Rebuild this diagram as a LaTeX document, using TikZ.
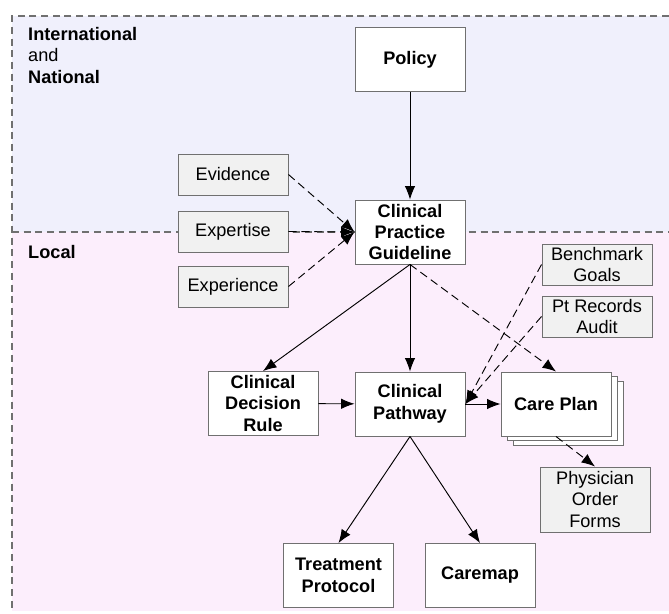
\documentclass[tikz,border=0pt]{standalone}
\usepackage{fontspec}
\setmainfont{Liberation Sans}
\usepackage{tikz}
\usetikzlibrary{arrows.meta}
\definecolor{topfill}{RGB}{240,240,252}
\definecolor{botfill}{RGB}{252,238,252}
\definecolor{edgegray}{RGB}{112,112,112}
\definecolor{inputfill}{RGB}{241,241,241}
\newcommand{\boxfont}{\fontsize{15.5}{18.3}\selectfont}

\begin{document}
\begin{tikzpicture}[x=0.03cm, y=-0.03cm,
  region/.style={color=edgegray, line width=0.9pt, dash pattern=on 6pt off 4pt},
  mainbox/.style={draw=edgegray, fill=white, line width=0.8pt, minimum width=3.3cm, minimum height=1.92cm, inner sep=1pt, align=center, font=\boxfont\bfseries},
  inputbox/.style={draw=edgegray, fill=inputfill, line width=0.8pt, minimum width=3.3cm, minimum height=1.23cm, inner sep=0.5pt, align=center, font=\boxfont},
  solidarrow/.style={-{Latex[length=11.5pt, width=9pt]}, line width=0.8pt},
  dasharrow/.style={-{Latex[length=11.5pt, width=9pt]}, line width=0.8pt, dash pattern=on 7pt off 4pt}]
\useasboundingbox (0,0) rectangle (669,613);
\coordinate (tl) at (12,16);
\coordinate (tr) at (669,16);
\coordinate (ml) at (12,232);
\coordinate (mr) at (669,232);
\coordinate (bl) at (12,611);
\coordinate (br) at (669,611);
 \fill[topfill] (tl) rectangle (mr);
 \fill[botfill] (ml) rectangle (br);
 \draw[region] (tr) -- (tl) -- (bl);
 \draw[region] (ml) -- (mr);
 \node[anchor=north west, align=left, inner sep=0pt, font=\boxfont] (intl) at (28,27) {\textbf{International}\\and\\\textbf{National}};
 \node[anchor=west, inner sep=0pt, font=\boxfont\bfseries] (local) at (28,252) {Local};
 \node[mainbox] (policy) at (410,59.5) {Policy};
 \node[mainbox] (cpg) at (410,232) {Clinical\\Practice\\Guideline};
 \node[inputbox] (evid) at (233,174.5) {Evidence};
 \node[inputbox] (expt) at (233,231.5) {Expertise};
 \node[inputbox] (expr) at (233,286.5) {Experience};
 \node[inputbox] (bench) at (597,264.5) {Benchmark\\Goals};
 \node[inputbox] (audit) at (597,316.5) {Pt Records\\Audit};
 \node[mainbox] (cdr) at (263,403.5) {Clinical\\Decision\\Rule};
 \node[mainbox] (path) at (410,404) {Clinical\\Pathway};
 \node[mainbox] (care2) at (568,413) {};
 \node[mainbox] (care1) at (562,408) {};
 \node[mainbox] (care) at (556,404) {Care Plan};
 \node[inputbox, minimum height=1.95cm] (phys) at (595,499.5) {Physician\\Order\\Forms};
 \node[mainbox] (treat) at (338.5,575.5) {Treatment\\Protocol};
 \node[mainbox] (cmap) at (480,575.5) {Caremap};
 \draw[solidarrow] (policy) -- (cpg);
 \draw[dasharrow] (evid.east) -- (cpg.west);
 \draw[dasharrow] (expt.east) -- (cpg.west);
 \draw[dasharrow] (expr.east) -- (cpg.west);
 \draw[solidarrow] (cpg.south) -- (cdr.north);
 \draw[solidarrow] (cpg.south) -- (path.north);
 \draw[dasharrow] (cpg.south) -- (care.north);
 \draw[dasharrow] (bench.west) -- (path.east);
 \draw[dasharrow] (audit.west) -- (path.east);
 \draw[solidarrow] (cdr) -- (path);
 \draw[solidarrow] (path) -- (care);
 \draw[dasharrow] (care.south) -- (phys.north);
 \draw[solidarrow] (path.south) -- (treat.north);
 \draw[solidarrow] (path.south) -- (cmap.north);
\end{tikzpicture}
\end{document}
